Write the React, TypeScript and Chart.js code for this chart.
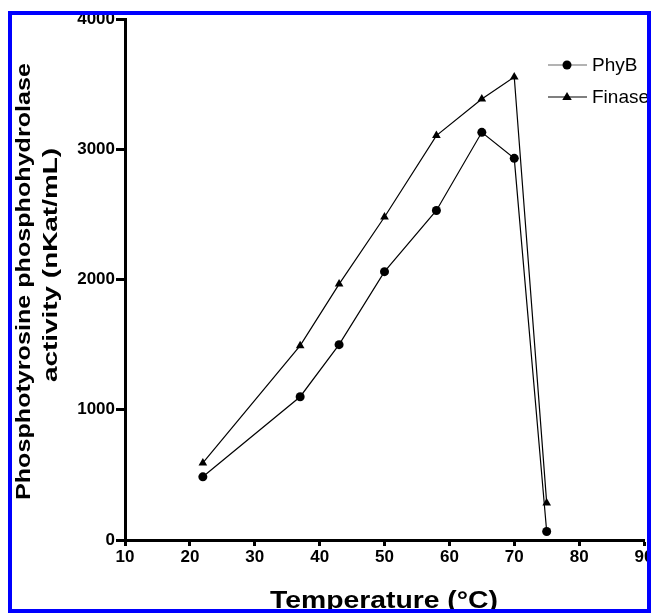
import React, { useEffect, useRef } from "react";
import { Chart, registerables } from "chart.js";

Chart.register(...registerables);

// ---- data ----
const temperatures = [22, 37, 43, 50, 58, 65, 70, 75];
const phyB = [485, 1100, 1500, 2060, 2530, 3130, 2930, 65];
const finase = [592, 1492, 1965, 2480, 3105, 3385, 3555, 285];
const seriesNames = ["PhyB", "Finase"];
const xRange = [10, 90];
const xStep = 10;
const yRange = [0, 4000];
const yStep = 1000;
const xTitle = "Temperature (°C)";
const yTitle = ["Phosphotyrosine phosphohydrolase", "activity (nKat/mL)"];

const FONT = '"Liberation Sans", Arial, Helvetica, sans-serif';

function drawFitted(
  ctx: CanvasRenderingContext2D,
  text: string,
  x: number,
  y: number,
  rot: number,
  target: number
) {
  ctx.save();
  ctx.translate(x, y);
  ctx.rotate(rot);
  const w = ctx.measureText(text).width;
  ctx.scale(target / w, 1);
  ctx.textAlign = "center";
  ctx.textBaseline = "alphabetic";
  ctx.fillText(text, 0, 0);
  ctx.restore();
}

const annotationPlugin = {
  id: "annotations",
  afterDraw(chart: any) {
    const ctx: CanvasRenderingContext2D = chart.ctx;
    ctx.save();
    ctx.fillStyle = "#000";
    // y title
    ctx.font = `bold 21px ${FONT}`;
    drawFitted(ctx, yTitle[0], 30, 281.5, -Math.PI / 2, 437);
    drawFitted(ctx, yTitle[1], 57, 265, -Math.PI / 2, 234);
    // x title
    ctx.font = `bold 24px ${FONT}`;
    drawFitted(ctx, xTitle, 384, 608, 0, 228);

    // legend
    const lineColors = ["#9a9a9a", "#555555"];
    chart.data.datasets.forEach((ds: any, i: number) => {
      const y = 65 + i * 32;
      ctx.strokeStyle = lineColors[i];
      ctx.lineWidth = 1.5;
      ctx.beginPath();
      ctx.moveTo(548, y);
      ctx.lineTo(587, y);
      ctx.stroke();
      ctx.fillStyle = "#000";
      ctx.beginPath();
      if (ds.pointStyle === "triangle") {
        const r = 5;
        ctx.moveTo(567, y - r);
        ctx.lineTo(567 + r * 0.95, y + r * 0.6);
        ctx.lineTo(567 - r * 0.95, y + r * 0.6);
        ctx.closePath();
      } else {
        ctx.arc(567, y, 4.5, 0, Math.PI * 2);
      }
      ctx.fill();
      ctx.font = `19px ${FONT}`;
      ctx.textAlign = "left";
      ctx.textBaseline = "middle";
      ctx.fillText(ds.label, 592, y + 1);
    });
    ctx.restore();
  },
};

export default function App() {
  const canvasRef = useRef<HTMLCanvasElement | null>(null);

  useEffect(() => {
    const canvas = canvasRef.current;
    if (!canvas) return;
    const chart = new Chart(canvas, {
      type: "line",
      data: {
        datasets: [
          {
            label: seriesNames[0],
            data: temperatures.map((t, i) => ({ x: t, y: phyB[i] })),
            borderColor: "#000",
            backgroundColor: "#000",
            borderWidth: 1.2,
            pointStyle: "circle",
            pointRadius: 4.5,
            pointBorderWidth: 0,
            tension: 0,
          },
          {
            label: seriesNames[1],
            data: temperatures.map((t, i) => ({ x: t, y: finase[i] })),
            borderColor: "#000",
            backgroundColor: "#000",
            borderWidth: 1.2,
            pointStyle: "triangle",
            pointRadius: 5,
            pointBorderWidth: 0,
            tension: 0,
          },
        ],
      },
      options: {
        responsive: false,
        animation: false,
        events: [],
        layout: { padding: { left: 0, top: 19, right: 7, bottom: 0 } },
        plugins: {
          legend: { display: false },
          tooltip: { enabled: false },
        },
        scales: {
          x: {
            type: "linear",
            min: xRange[0],
            max: xRange[1],
            ticks: {
              stepSize: xStep,
              color: "#000",
              font: { family: FONT, size: 17, weight: "bold" },
              padding: 1,
              maxRotation: 0,
              callback: (v: any) => String(v),
            },
            grid: {
              drawOnChartArea: false,
              drawTicks: true,
              tickLength: 6,
              tickWidth: 3,
              tickColor: "#000",
            },
            border: { display: true, width: 3, color: "#000" },
            afterFit(scale: any) {
              scale.height = 73;
              scale.paddingLeft = 0;
              scale.paddingRight = 0;
            },
          },
          y: {
            type: "linear",
            min: yRange[0],
            max: yRange[1],
            ticks: {
              stepSize: yStep,
              color: "#000",
              font: { family: FONT, size: 17, weight: "bold" },
              padding: 1,
              callback: (v: any) => String(v),
            },
            grid: {
              drawOnChartArea: false,
              drawTicks: true,
              tickLength: 9,
              tickWidth: 3,
              tickColor: "#000",
            },
            border: { display: true, width: 3, color: "#000" },
            afterFit(scale: any) {
              scale.width = 125;
              scale.paddingTop = 0;
              scale.paddingBottom = 0;
            },
          },
        },
      },
      plugins: [annotationPlugin],
    } as any);
    return () => chart.destroy();
  }, []);

  return (
    <div
      style={{
        position: "absolute",
        left: 8,
        top: 11,
        width: 643,
        height: 602,
        border: "4px solid #0000ff",
        boxSizing: "border-box",
        overflow: "hidden",
        background: "#fff",
      }}
    >
      <div style={{ position: "absolute", left: -12, top: -15, width: 651, height: 613 }}>
        <canvas ref={canvasRef} width={651} height={613} style={{ display: "block" }} />
      </div>
    </div>
  );
}
